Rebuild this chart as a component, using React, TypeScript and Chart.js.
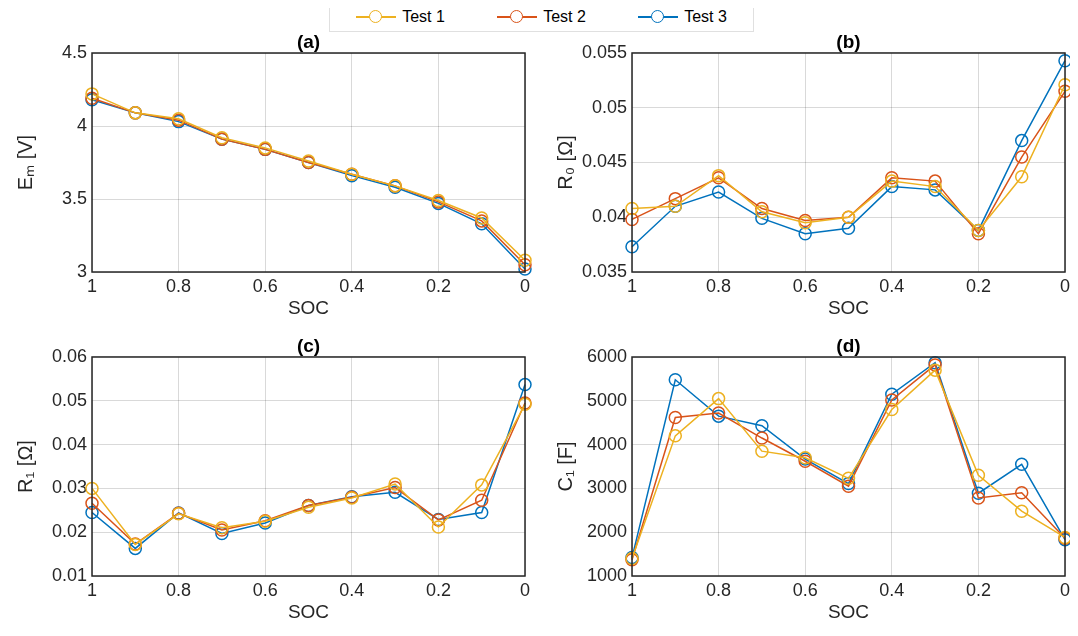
import React, { useEffect, useRef } from "react";
import { Chart, registerables } from "chart.js";
Chart.register(...registerables);

const soc = [1, 0.9, 0.8, 0.7, 0.6, 0.5, 0.4, 0.3, 0.2, 0.1, 0];
const seriesNames = ["Test 1", "Test 2", "Test 3"];
const colors = ["#EDB120", "#D95319", "#0072BD"];

const em1 = [4.22, 4.09, 4.05, 3.92, 3.85, 3.76, 3.67, 3.59, 3.49, 3.37, 3.08];
const em2 = [4.19, 4.09, 4.04, 3.91, 3.84, 3.75, 3.67, 3.59, 3.48, 3.35, 3.05];
const em3 = [4.18, 4.09, 4.03, 3.91, 3.84, 3.75, 3.66, 3.58, 3.47, 3.33, 3.02];

const r0_1 = [0.0408, 0.0410, 0.0438, 0.0405, 0.0395, 0.0400, 0.0433, 0.0428, 0.0388, 0.0437, 0.0521];
const r0_2 = [0.0398, 0.0417, 0.0436, 0.0408, 0.0397, 0.0400, 0.0436, 0.0433, 0.0385, 0.0455, 0.0515];
const r0_3 = [0.0373, 0.0410, 0.0423, 0.0399, 0.0385, 0.0390, 0.0428, 0.0425, 0.0388, 0.0470, 0.0543];

const r1_1 = [0.0300, 0.0172, 0.0242, 0.0210, 0.0225, 0.0257, 0.0278, 0.0310, 0.0212, 0.0308, 0.0492];
const r1_2 = [0.0266, 0.0173, 0.0243, 0.0205, 0.0226, 0.0261, 0.0280, 0.0302, 0.0228, 0.0273, 0.0495];
const r1_3 = [0.0245, 0.0163, 0.0244, 0.0197, 0.0221, 0.0261, 0.0281, 0.0291, 0.0229, 0.0245, 0.0537];

const c1_1 = [1400, 4200, 5050, 3850, 3700, 3230, 4800, 5700, 3300, 2480, 1880];
const c1_2 = [1370, 4620, 4720, 4150, 3620, 3050, 5020, 5820, 2780, 2900, 1860];
const c1_3 = [1420, 5480, 4650, 4430, 3670, 3110, 5150, 5870, 2890, 3550, 1830];

const xTicks = [1, 0.8, 0.6, 0.4, 0.2, 0];

const panels = [
  { title: "(a)", ylabel: "Eₘ [V]", data: [em1, em2, em3], min: 3, max: 4.5, step: 0.5, left: 0, top: 30 },
  { title: "(b)", ylabel: "R₀ [Ω]", data: [r0_1, r0_2, r0_3], min: 0.035, max: 0.055, step: 0.005, left: 540, top: 30 },
  { title: "(c)", ylabel: "R₁ [Ω]", data: [r1_1, r1_2, r1_3], min: 0.01, max: 0.06, step: 0.01, left: 0, top: 334 },
  { title: "(d)", ylabel: "C₁ [F]", data: [c1_1, c1_2, c1_3], min: 1000, max: 6000, step: 1000, left: 540, top: 334 },
];

const FONT = "'Liberation Sans', Arial, sans-serif";

function fmt(v: number) {
  return parseFloat(v.toPrecision(6)).toString();
}

function Panel({ p }: { p: any }) {
  const ref = useRef<HTMLCanvasElement>(null);
  useEffect(() => {
    const boxPlugin = {
      id: "box",
      afterDraw(chart: any) {
        const { ctx, chartArea: a } = chart;
        ctx.save();
        ctx.strokeStyle = "#262626";
        ctx.lineWidth = 1.5;
        ctx.strokeRect(a.left, a.top, a.right - a.left, a.bottom - a.top);
        ctx.font = `bold 19px ${FONT}`;
        ctx.fillStyle = "#000";
        ctx.textAlign = "center";
        ctx.textBaseline = "bottom";
        ctx.fillText(p.title, (a.left + a.right) / 2, a.top - 1);
        ctx.restore();
      },
    };
    const chart = new Chart(ref.current!, {
      type: "line",
      data: {
        datasets: p.data.map((d: number[], i: number) => ({
          label: seriesNames[i],
          data: d.map((y, j) => ({ x: soc[j], y })),
          borderColor: colors[i],
          backgroundColor: "transparent",
          borderWidth: 1.5,
          pointRadius: 6,
          pointBorderWidth: 1.5,
          pointBackgroundColor: "transparent",
          pointBorderColor: colors[i],
          tension: 0,
          clip: false as any,
        })),
      },
      options: {
        animation: false,
        responsive: false,
        layout: { padding: { top: 23, right: 15, left: 14, bottom: 0 } },
        plugins: { legend: { display: false }, tooltip: { enabled: false } },
        scales: {
          x: {
            type: "linear",
            reverse: true,
            min: 0,
            max: 1,
            afterBuildTicks: (s: any) => { s.ticks = xTicks.map((v) => ({ value: v })); },
            afterFit: (s: any) => { s.height = 48; },
            ticks: { color: "#262626", font: { size: 18, family: FONT }, padding: 4, maxRotation: 0, callback: (v: any) => fmt(Number(v)) },
            grid: { color: "rgba(0,0,0,0.15)", drawTicks: false },
            border: { display: false },
            title: { display: true, text: "SOC", color: "#262626", font: { size: 19, family: FONT }, padding: { top: -2, bottom: 0 } },
          },
          y: {
            min: p.min,
            max: p.max,
            afterBuildTicks: (s: any) => {
              const t = [];
              for (let k = 0; k <= Math.round((p.max - p.min) / p.step); k++) t.push({ value: p.min + k * p.step });
              s.ticks = t;
            },
            afterFit: (s: any) => { s.width = 78; },
            ticks: { color: "#262626", font: { size: 18, family: FONT }, padding: 5, callback: (v: any) => fmt(Number(v)) },
            grid: { color: "rgba(0,0,0,0.15)", drawTicks: false },
            border: { display: false },
            title: { display: true, text: p.ylabel, color: "#262626", font: { size: 20, family: FONT }, padding: { top: 0, bottom: 0 } },
          },
        },
      } as any,
      plugins: [boxPlugin],
    });
    return () => chart.destroy();
  }, []);
  return (
    <canvas
      ref={ref}
      width={540}
      height={290}
      style={{ position: "absolute", left: p.left, top: p.top, width: 540, height: 290 }}
    />
  );
}

export default function App() {
  return (
    <div style={{ position: "relative", width: 1078, height: 636, margin: -8, background: "#fff", fontFamily: FONT }}>
      <div
        style={{
          position: "absolute", left: 329, top: 2, width: 425, height: 30, border: "1px solid #e0e0e0",
          display: "flex", alignItems: "center", justifyContent: "space-around", boxSizing: "border-box", fontSize: 16, color: "#000",
        }}
      >
        {seriesNames.map((n, i) => (
          <div key={n} style={{ display: "flex", alignItems: "center" }}>
            <div style={{ position: "relative", width: 40, height: 14, marginRight: 6 }}>
              <div style={{ position: "absolute", left: 0, right: 0, top: 6, height: 2, background: colors[i] }} />
              <div style={{ position: "absolute", left: 13, top: 0, width: 11, height: 11, borderRadius: "50%", border: `1.5px solid ${colors[i]}`, background: "#fff" }} />
            </div>
            {n}
          </div>
        ))}
      </div>
      {panels.map((p) => <Panel key={p.title} p={p} />)}
    </div>
  );
}
